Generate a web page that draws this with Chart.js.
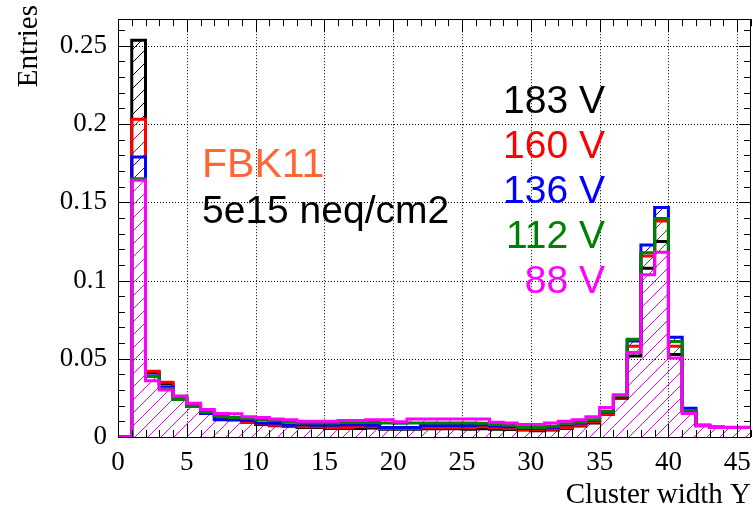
<!DOCTYPE html>
<html>
<head>
<meta charset="utf-8">
<script src="https://cdn.jsdelivr.net/npm/chart.js@4.4.0/dist/chart.umd.min.js"></script>
<style>
    body { margin: 0; background: #fff; }
</style>
</head>
<body>
<canvas id="grafico" width="753" height="508"></canvas>
<script>
// bins of cluster width (left edges), width 1
const bins = [0, 1, 2, 3, 4, 5, 6, 7, 8, 9, 10, 11, 12, 13, 14, 15, 16, 17, 18, 19, 20, 21, 22,
    23, 24, 25, 26, 27, 28, 29, 30, 31, 32, 33, 34, 35, 36, 37, 38, 39, 40, 41, 42, 43, 44, 45];

const v183 = [0, 0.2535, 0.041, 0.034, 0.026, 0.020, 0.0155, 0.013, 0.011, 0.0095, 0.008, 0.0072,
    0.0068, 0.006, 0.006, 0.0055, 0.0055, 0.0055, 0.0058, 0.005, 0.005, 0.005, 0.0052, 0.0052, 0.0052,
    0.005, 0.0052, 0.005, 0.0048, 0.0045, 0.004, 0.0045, 0.0055, 0.007, 0.009, 0.0146, 0.0248, 0.0518,
    0.1079, 0.125, 0.0527, 0.016, 0.0075, 0.006, 0.006, 0.006];
const v160 = [0, 0.203, 0.042, 0.035, 0.025, 0.020, 0.015, 0.0125, 0.011, 0.0095, 0.0085, 0.0075,
    0.007, 0.0065, 0.0065, 0.006, 0.006, 0.0065, 0.0065, 0.0055, 0.0055, 0.0055, 0.006, 0.006, 0.006,
    0.006, 0.0065, 0.006, 0.0055, 0.0048, 0.0048, 0.005, 0.006, 0.0075, 0.0097, 0.015, 0.0255, 0.058,
    0.1157, 0.138, 0.058, 0.0165, 0.0072, 0.006, 0.006, 0.006];
const v136 = [0, 0.179, 0.039, 0.032, 0.0245, 0.0195, 0.015, 0.011, 0.011, 0.0105, 0.009, 0.0088,
    0.0075, 0.0078, 0.0075, 0.0075, 0.0078, 0.0078, 0.0075, 0.006, 0.006, 0.006, 0.0073, 0.0073, 0.0073,
    0.0073, 0.0078, 0.007, 0.0065, 0.0055, 0.0055, 0.0062, 0.0078, 0.009, 0.0105, 0.016, 0.026, 0.0613,
    0.1227, 0.1466, 0.0637, 0.0184, 0.0075, 0.006, 0.006, 0.006];
const v112 = [0, 0.165, 0.0386, 0.031, 0.024, 0.0195, 0.016, 0.0135, 0.0125, 0.012, 0.011, 0.0105,
    0.0095, 0.009, 0.009, 0.009, 0.0092, 0.0092, 0.0092, 0.009, 0.0088, 0.009, 0.009, 0.009, 0.009,
    0.009, 0.0088, 0.008, 0.0075, 0.006, 0.006, 0.0068, 0.0085, 0.0095, 0.011, 0.0165, 0.0265, 0.0625,
    0.1177, 0.1397, 0.061, 0.017, 0.0072, 0.0065, 0.0062, 0.0062];
const v88 = [0, 0.164, 0.036, 0.030, 0.026, 0.0215, 0.0175, 0.015, 0.0148, 0.013, 0.0125, 0.0115,
    0.011, 0.010, 0.010, 0.010, 0.0105, 0.0105, 0.011, 0.011, 0.0097, 0.0115, 0.0115, 0.0115, 0.0115,
    0.0115, 0.0115, 0.0095, 0.009, 0.008, 0.008, 0.009, 0.010, 0.011, 0.013, 0.0188, 0.027, 0.054,
    0.1037, 0.118, 0.0505, 0.015, 0.0073, 0.006, 0.006, 0.006];

const xTicks = [0, 5, 10, 15, 20, 25, 30, 35, 40, 45];
const yTicks = [0, 0.05, 0.1, 0.15, 0.2, 0.25];
const yTickLabels = ['0', '0.05', '0.1', '0.15', '0.2', '0.25'];

const seriesLabels = ['183 V', '160 V', '136 V', '112 V', '88 V'];
const seriesColors = ['#000000', '#ff0000', '#0000ff', '#008000', '#ff00ff'];
const seriesValues = [v183, v160, v136, v112, v88];
const lastIdx = seriesValues.length - 1;   // 88 V is drawn on top of the others

// hatch fill like ROOT style 3004
function hatch(color) {
    const s = 13;
    const c = document.createElement('canvas');
    c.width = s;
    c.height = s;
    const g = c.getContext('2d');
    g.fillStyle = color;
    for (let i = 0; i < s; i++) {
        g.fillRect(i, s - 1 - i, 1, 1);
    }
    return g.createPattern(c, 'repeat');
}

function toPoints(vals) {
    const pts = bins.map((b, i) => ({ x: b, y: vals[i] }));
    pts.push({ x: bins[bins.length - 1] + 1, y: vals[vals.length - 1] });
    return pts;
}

const frame = {
    id: 'frame',
    beforeDatasetsDraw(chart) {
        const { ctx, chartArea: a, scales: { x, y } } = chart;
        ctx.save();
        ctx.strokeStyle = '#000';
        ctx.lineWidth = 1;
        ctx.setLineDash([1, 2]);
        ctx.beginPath();
        xTicks.slice(1).forEach(v => {
            const px = Math.round(x.getPixelForValue(v)) + 0.5;
            ctx.moveTo(px, a.top); ctx.lineTo(px, a.bottom);
        });
        yTicks.slice(1).forEach(v => {
            const py = Math.round(y.getPixelForValue(v)) + 0.5;
            ctx.moveTo(a.left, py); ctx.lineTo(a.right, py);
        });
        ctx.stroke();
        ctx.restore();
    },
    afterDatasetsDraw(chart) {
        const { ctx, chartArea: a, scales: { x, y } } = chart;
        ctx.save();
        ctx.strokeStyle = '#000';
        ctx.lineWidth = 1;
        ctx.beginPath();
        for (let v = 0; v <= 46; v++) {
            const px = Math.round(x.getPixelForValue(v)) + 0.5;
            const len = v % 5 === 0 ? 13 : 7;
            ctx.moveTo(px, a.bottom); ctx.lineTo(px, a.bottom - len);
            ctx.moveTo(px, a.top); ctx.lineTo(px, a.top + len);
        }
        for (let k = 0; k <= 26; k++) {
            const py = Math.round(y.getPixelForValue(k / 100)) + 0.5;
            const len = k % 5 === 0 ? 12 : 7;
            ctx.moveTo(a.left, py); ctx.lineTo(a.left + len, py);
            ctx.moveTo(a.right, py); ctx.lineTo(a.right - len, py);
        }
        ctx.stroke();
        ctx.strokeRect(Math.round(a.left) + 0.5, Math.round(a.top) + 0.5,
            Math.round(a.right - a.left) - 1, Math.round(a.bottom - a.top));

        // axis titles
        ctx.fillStyle = '#000';
        ctx.font = '29px "Liberation Serif", serif';
        ctx.textAlign = 'right';
        ctx.textBaseline = 'alphabetic';
        ctx.fillText('Cluster width Y', 751, 503);
        ctx.save();
        ctx.translate(37, 5);
        ctx.rotate(-Math.PI / 2);
        ctx.fillText('Entries', 0, 0);
        ctx.restore();

        // texts
        ctx.textAlign = 'left';
        ctx.font = '41px "Liberation Sans", Arial, sans-serif';
        ctx.fillStyle = '#ff6633';
        ctx.fillText('FBK11', 202, 177);
        ctx.font = '39px "Liberation Sans", Arial, sans-serif';
        ctx.fillStyle = '#000';
        ctx.fillText('5e15 neq/cm2', 202, 223);
        ctx.textAlign = 'right';
        seriesLabels.forEach((t, i) => {
            ctx.fillStyle = seriesColors[i];
            ctx.fillText(t, 605, 113 + i * 45);
        });
        ctx.restore();
    }
};

const grafico = new Chart(document.getElementById('grafico'), {
    type: 'line',
    data: {
        datasets: seriesValues.map((vals, i) => ({
            label: seriesLabels[i],
            data: toPoints(vals),
            borderColor: seriesColors[i],
            backgroundColor: hatch(seriesColors[i]),
            borderWidth: 3,
            borderJoinStyle: 'miter',
            // the top histogram hatches down to zero, the others only where they rise above it
            fill: i === lastIdx ? 'origin'
                : { target: lastIdx, above: hatch(seriesColors[i]), below: 'rgba(0,0,0,0)' },
            stepped: true,
            pointRadius: 0,
            order: 4 - i
        }))
    },
    options: {
        responsive: false,
        animation: false,
        layout: { padding: { top: 5, right: 2, left: 0, bottom: 0 } },
        plugins: {
            legend: { display: false },
            tooltip: { enabled: false },
            filler: { drawTime: 'beforeDatasetsDraw' }
        },
        scales: {
            x: {
                type: 'linear',
                min: 0,
                max: 46,
                afterFit(s) { s.height = 71; },
                afterBuildTicks(s) { s.ticks = xTicks.map(v => ({ value: v })); },
                grid: { display: false },
                border: { display: false },
                ticks: {
                    color: '#000',
                    font: { family: '"Liberation Serif"', size: 27 },
                    padding: 2,
                    maxRotation: 0,
                    autoSkip: false,
                    callback: (v) => String(v)
                }
            },
            y: {
                type: 'linear',
                min: 0,
                max: 0.267,
                afterFit(s) { s.width = 118; },
                afterBuildTicks(s) { s.ticks = yTicks.map(v => ({ value: v })); },
                grid: { display: false },
                border: { display: false },
                ticks: {
                    color: '#000',
                    font: { family: '"Liberation Serif"', size: 27 },
                    padding: 3,
                    autoSkip: false,
                    callback: (v, i) => yTickLabels[i]
                }
            }
        }
    },
    plugins: [frame]
});
</script>
</body>
</html>
